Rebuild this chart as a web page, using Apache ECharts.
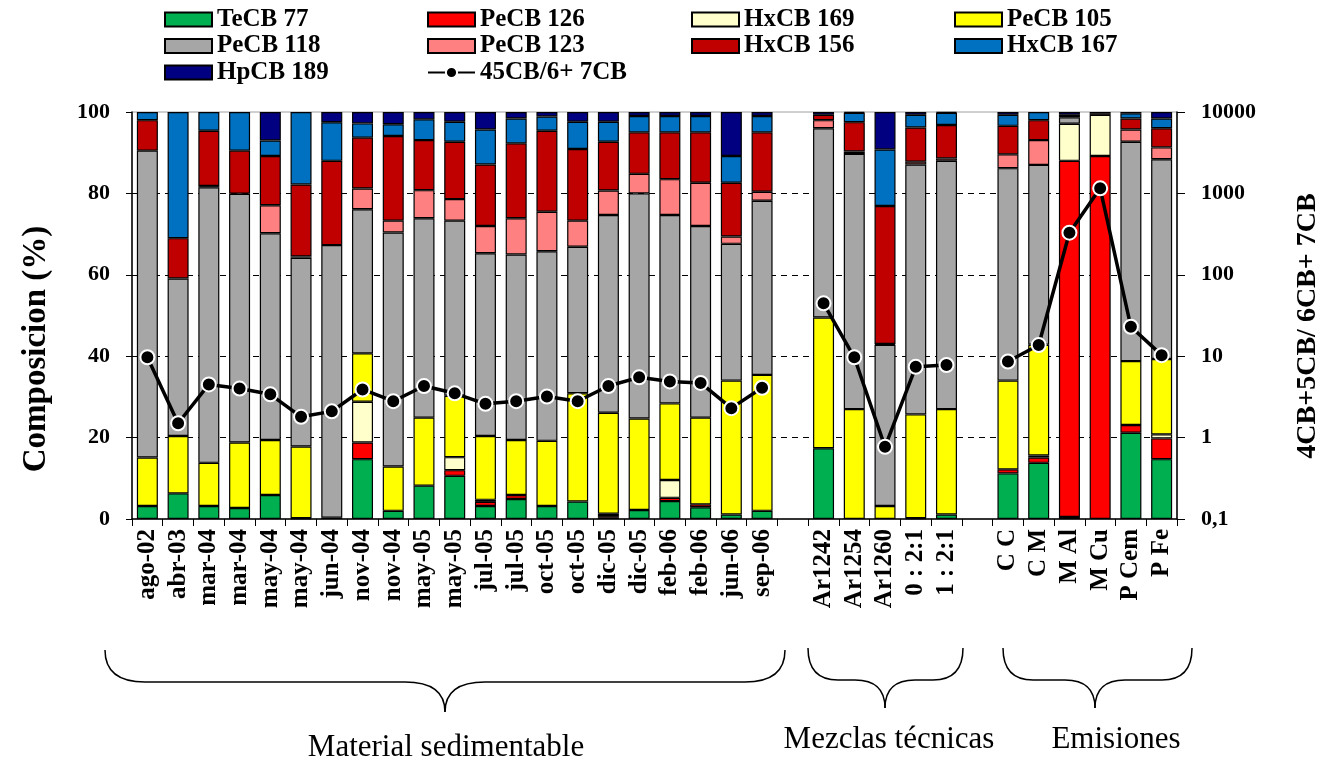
<!DOCTYPE html>
<html>
<head>
<meta charset="utf-8">
<script src="https://cdn.jsdelivr.net/npm/echarts@6/dist/echarts.min.js"></script>
<style>html,body{margin:0;padding:0;background:#fff}#c{width:1324px;height:764px}</style>
</head>
<body>
<div id="c"></div>
<script>
// ---------- data ----------
const categories = [
  'ago-02','abr-03','mar-04','mar-04','may-04','may-04','jun-04','nov-04','nov-04','may-05','may-05',
  'jul-05','jul-05','oct-05','oct-05','dic-05','dic-05','feb-06','feb-06','jun-06','sep-06',
  ' ',
  'Ar1242','Ar1254','Ar1260','0 : 2:1','1 : 2:1',
  '  ',
  'C C','C M','M Al','M Cu','P Cem','P Fe'
];
const seriesNames = ['TeCB 77','PeCB 126','HxCB 169','PeCB 105','PeCB 118','PeCB 123','HxCB 156','HxCB 167','HpCB 189'];
const seriesColors = ['#00B050','#FF0000','#FFFFCC','#FFFF00','#A6A6A6','#FF8080','#C00000','#0070C0','#000080'];
const G = null; // gap column
const TeCB77  = [3.2,6.3,3.2,2.7,5.9,0.2,0,14.7,2.0,8.2,10.6,3.2,4.9,3.2,4.3,0.3,2.2,4.4,2.9,1.1,2.0, G, 17.4,0,0,0.2,1.1, G, 11.2,13.8,0.5,0,21.2,14.7];
const PeCB126 = [0,0,0,0,0,0,0,4.1,0,0,1.4,1.0,1.0,0,0,0.4,0,0.8,0.7,0,0, G, 0,0,0,0,0, G, 1.0,1.3,87.5,89.2,1.9,5.1];
const HxCB169 = [0,0,0,0,0,0,0,10.0,0,0,3.2,0.5,0,0,0,0.6,0,4.4,0,0,0, G, 0,0,0,0,0, G, 0,0.5,9.1,10.1,0,1.0];
const PeCB105 = [11.9,14.1,10.6,16.1,13.5,17.6,0.3,11.9,10.9,16.7,15.1,15.7,13.5,16.0,26.6,24.8,22.5,18.8,21.3,32.9,33.4, G, 32.1,27.0,3.2,25.5,25.9, G, 21.8,27.2,0,0,15.7,18.5];
const PeCB118 = [75.4,38.7,67.7,61.1,50.8,46.4,67.0,35.4,57.5,49.0,43.0,44.9,45.6,46.6,36.0,48.6,55.3,46.3,47.1,33.6,42.8, G, 46.5,62.7,39.6,61.4,61.0, G, 52.2,44.2,1.6,0,53.9,49.1];
const PeCB123 = [0,0,0.3,0,6.9,0.3,0,5.1,2.9,6.9,5.3,6.7,8.9,9.7,6.4,6.0,4.8,8.8,10.6,1.8,2.2, G, 2.0,0.6,0.2,0.7,0.6, G, 3.4,6.1,0,0,3.0,2.9];
const HxCB156 = [7.5,9.9,13.6,10.6,12.1,17.7,20.7,12.5,20.8,12.3,14.1,15.1,18.4,19.9,17.6,12.0,10.2,11.5,12.4,13.2,14.6, G, 1.3,7.2,33.9,8.4,8.2, G, 7.0,4.9,0.6,0.4,2.7,4.7];
const HxCB167 = [2.0,31.0,4.6,9.5,3.8,17.8,9.5,3.5,2.9,5.1,4.9,8.6,6.1,3.5,6.7,4.9,4.0,4.0,4.0,6.6,4.0, G, 0,2.3,13.9,3.1,3.0, G, 2.7,2.0,0,0,1.3,2.4];
const HpCB189 = [0,0,0,0,7.0,0,2.5,2.8,3.0,1.8,2.4,4.3,1.6,1.1,2.4,2.4,1.0,1.0,1.0,10.8,1.0, G, 0.7,0.2,9.2,0.7,0.2, G, 0.7,0,0.7,0.3,0.3,1.6];
const ratioName = '45CB/6+ 7CB';
const ratio = [9.7,1.5,4.5,4.0,3.4,1.8,2.1,3.9,2.8,4.3,3.5,2.6,2.8,3.2,2.8,4.3,5.5,4.9,4.7,2.3,4.1, G, 44.6,9.7,0.77,7.4,7.8, G, 8.6,13.7,329,1154,23,10.3];
const leftTicks = [0,20,40,60,80,100];
const rightTicks = ['0,1','1','10','100','1000','10000'];
const groupLabels = ['Material sedimentable','Mezclas técnicas','Emisiones'];

const stackData = [TeCB77,PeCB126,HxCB169,PeCB105,PeCB118,PeCB123,HxCB156,HxCB167,HpCB189];

// ---------- chart ----------
const FONT = "'Liberation Serif','Times New Roman',serif";
const chart = echarts.init(document.getElementById('c'), null, {renderer:'canvas'});

const barSeries = seriesNames.map((n,i)=>({
  name:n, type:'bar', stack:'comp', barWidth:21, z:2,
  data: stackData[i].map(v => (v===null||v===0) ? null : v),
  itemStyle:{color:seriesColors[i], borderColor:'#000', borderWidth:1.2},
  emphasis:{disabled:true}
}));

const lineSeries = {
  name: ratioName, type:'line', yAxisIndex:1, z:5, connectNulls:false,
  data: ratio,
  symbol:'circle', symbolSize:14,
  lineStyle:{color:'#000', width:3.5},
  itemStyle:{color:'#000', borderColor:'#fff', borderWidth:2},
  emphasis:{disabled:true}
};

function legendBlock(left, names){
  return {
    orient:'vertical', left:left, top:7, padding:0, itemGap:1.5,
    itemWidth:47, itemHeight:14,
    data:names.map(n => n === ratioName ? {name:n} : {name:n, icon:'rect'}),
    selectedMode:false,
    textStyle:{fontFamily:FONT, fontWeight:'bold', fontSize:25, color:'#000', lineHeight:20}
  };
}

const BR = {stroke:'#000', lineWidth:1.5, fill:null};
function brace(x1, x2, xc, ytop, ymid, ytip, r){
  return [
    {type:'bezierCurve', shape:{x1:x1, y1:ytop, cpx1:x1, cpy1:ymid, x2:x1+r, y2:ymid}, style:BR},
    {type:'line', shape:{x1:x1+r, y1:ymid, x2:xc-r, y2:ymid}, style:BR},
    {type:'bezierCurve', shape:{x1:xc-r, y1:ymid, cpx1:xc, cpy1:ymid, x2:xc, y2:ytip}, style:BR},
    {type:'bezierCurve', shape:{x1:xc, y1:ytip, cpx1:xc, cpy1:ymid, x2:xc+r, y2:ymid}, style:BR},
    {type:'line', shape:{x1:xc+r, y1:ymid, x2:x2-r, y2:ymid}, style:BR},
    {type:'bezierCurve', shape:{x1:x2-r, y1:ymid, cpx1:x2, cpy1:ymid, x2:x2, y2:ytop}, style:BR}
  ];
}

const option = {
  backgroundColor:'#fff',
  animation:false,
  legend:[
    legendBlock(164, ['TeCB 77','PeCB 118','HpCB 189']),
    legendBlock(427, ['PeCB 126','PeCB 123', ratioName]),
    legendBlock(691, ['HxCB 169','HxCB 156']),
    legendBlock(954, ['PeCB 105','HxCB 167'])
  ],
  grid:{left:132, right:147, top:112, bottom:245, show:true, borderColor:'#a0a0a0', borderWidth:1},
  xAxis:{
    type:'category', data:categories,
    axisLine:{lineStyle:{color:'#000', width:1.5}},
    axisTick:{show:true, length:7, lineStyle:{color:'#000'}, interval:0},
    axisLabel:{rotate:90, interval:0, margin:10, fontFamily:FONT, fontWeight:'bold', fontSize:25, color:'#000'}
  },
  yAxis:[
    {
      type:'value', min:leftTicks[0], max:leftTicks[leftTicks.length-1], interval:20,
      axisLine:{show:true, lineStyle:{color:'#000', width:1.5}},
      axisTick:{show:true, length:6, lineStyle:{color:'#000'}},
      axisLabel:{margin:22, fontFamily:FONT, fontWeight:'bold', fontSize:22, color:'#000'},
      splitLine:{show:true, showMinLine:false, showMaxLine:false, lineStyle:{color:'#000', type:[6,5], width:1}}
    },
    {
      type:'log', logBase:10, min:0.1, max:10000,
      axisLine:{show:true, lineStyle:{color:'#000', width:1.5}},
      axisTick:{show:true, length:8, lineStyle:{color:'#000'}},
      axisLabel:{margin:24, fontFamily:FONT, fontWeight:'bold', fontSize:22, color:'#000',
        formatter:(v)=>{ const e=Math.round(Math.log10(v)); return rightTicks[e+1]; }},
      splitLine:{show:false}
    }
  ],
  series:[...barSeries, lineSeries],
  graphic:[
    {type:'text', x:36, y:349, rotation:Math.PI/2,
     style:{text:'Composicion (%)', fontFamily:FONT, fontWeight:'bold', fontSize:33, fill:'#000', align:'center', verticalAlign:'middle'}},
    {type:'text', x:1308, y:326, rotation:Math.PI/2,
     style:{text:'4CB+5CB/ 6CB+ 7CB', fontFamily:FONT, fontWeight:'bold', fontSize:28, fill:'#000', align:'center', verticalAlign:'middle'}},
    ...brace(105,785,445,650,682,712,40),
    ...brace(808,963,885,648,680,708,30),
    ...brace(1003,1192,1095,648,680,708,30),
    {type:'text', x:446, y:748, style:{text:groupLabels[0], fontFamily:FONT, fontSize:31, fill:'#000', align:'center', verticalAlign:'middle'}},
    {type:'text', x:889, y:740, style:{text:groupLabels[1], fontFamily:FONT, fontSize:31, fill:'#000', align:'center', verticalAlign:'middle'}},
    {type:'text', x:1116, y:740, style:{text:groupLabels[2], fontFamily:FONT, fontSize:31, fill:'#000', align:'center', verticalAlign:'middle'}}
  ]
};
chart.setOption(option);
</script>
</body>
</html>
